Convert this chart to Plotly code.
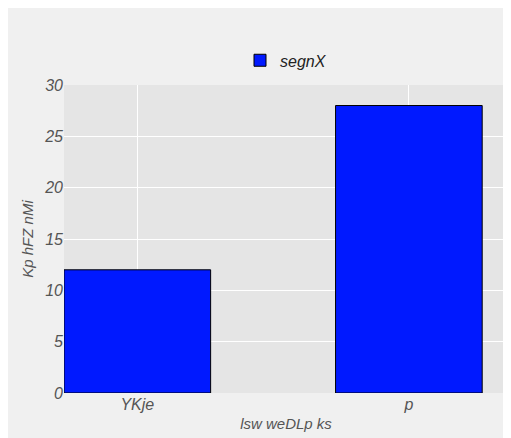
import plotly.graph_objects as go

categories = ["YKje", "p"]
values = [12, 28]
series_name = "segnX"

fig = go.Figure()
fig.add_trace(go.Bar(
    x=[0, 1], y=values, name=series_name, width=0.54,
    marker=dict(color="#0019ff", line=dict(color="black", width=1)),
))
fig.update_layout(
    width=511, height=438,
    paper_bgcolor="#f0f0f0", plot_bgcolor="#e5e5e5",
    margin=dict(l=56, r=11, t=77, b=53, autoexpand=False),
    font=dict(family="Liberation Sans, Arial", style="italic", size=16, color="#555555"),
    showlegend=True,
    legend=dict(orientation="h", x=0.5, xanchor="center", y=1.08, yanchor="middle",
                font=dict(size=16, color="#222222", style="italic"), bgcolor="rgba(0,0,0,0)"),
    xaxis=dict(tickmode="array", tickvals=[0, 1], ticktext=categories, automargin=False,
               range=[-0.27, 1.365], showgrid=True, gridcolor="white", gridwidth=1,
               title=dict(text="lsw weDLp ks", font=dict(size=15, color="#555555"), standoff=6),
               ticks="", zeroline=False),
    yaxis=dict(range=[0, 30], dtick=5, gridcolor="white", gridwidth=1, automargin=False,
               title=dict(text="Kp hFZ nMi", font=dict(size=15, color="#555555"), standoff=6),
               zeroline=False, ticks=""),
)
fig.write_html("out.html")
